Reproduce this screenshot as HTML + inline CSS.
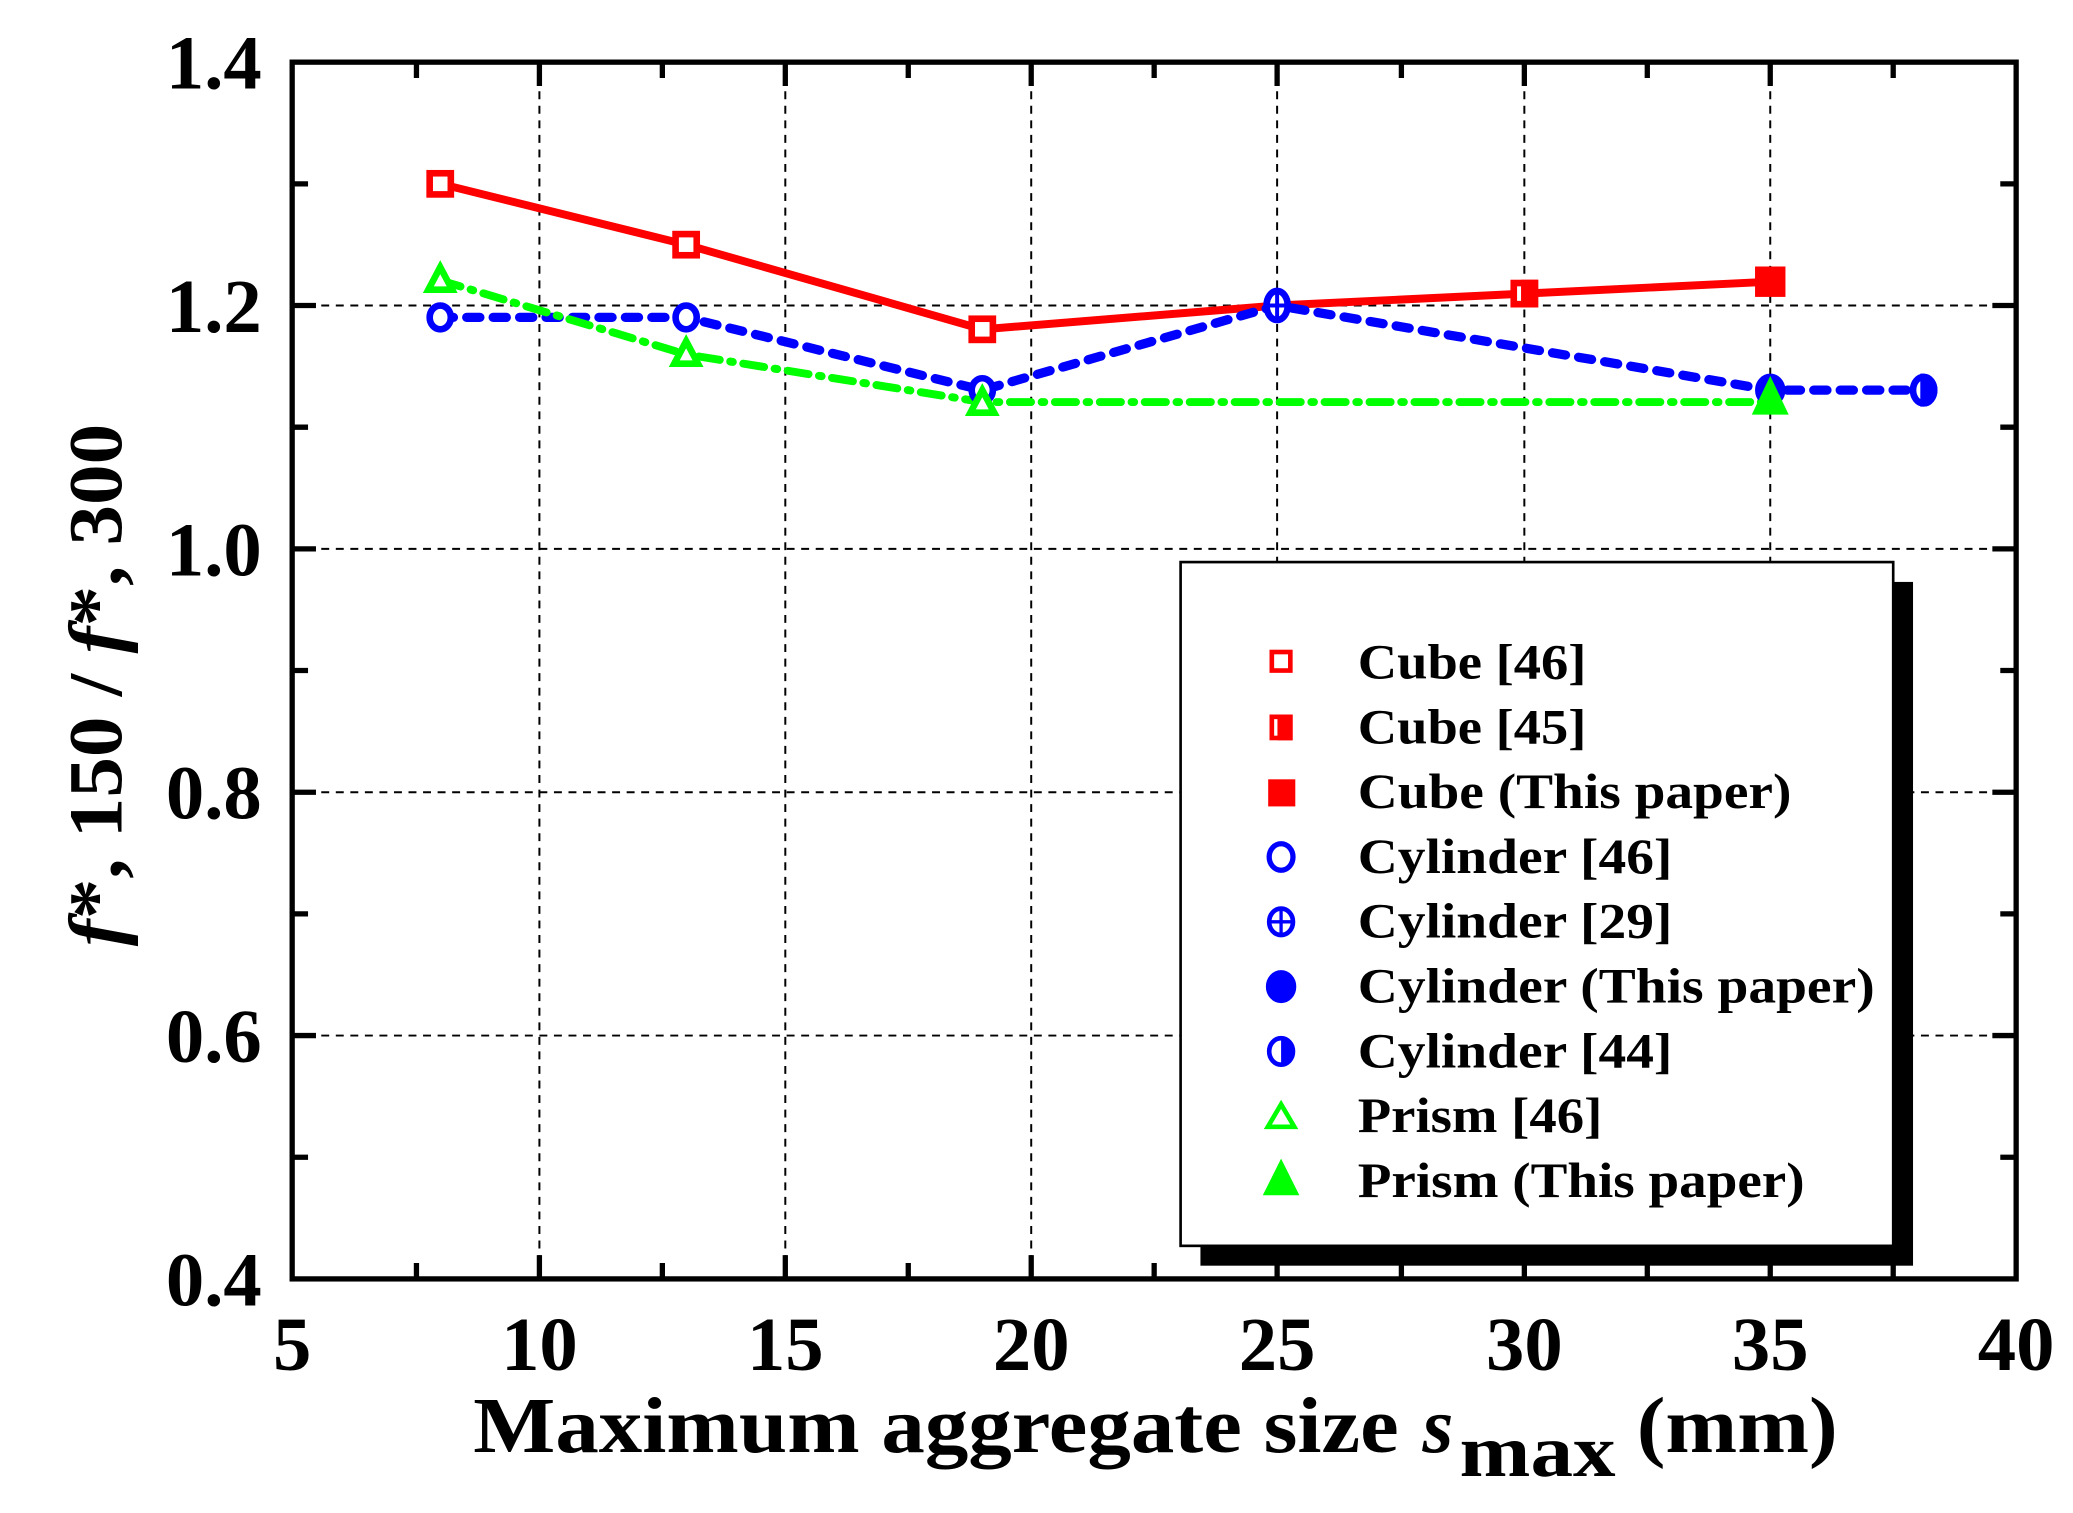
<!DOCTYPE html>
<html><head><meta charset="utf-8"><style>html,body{margin:0;padding:0;background:#fff}svg{display:block}text{font-family:"Liberation Serif",serif;font-weight:bold}</style></head>
<body>
<svg width="2073" height="1513" viewBox="0 0 1568 1144" preserveAspectRatio="none" xmlns="http://www.w3.org/2000/svg">
<rect width="1568" height="1144" fill="#fff"/>
<g stroke="#000" stroke-width="1.5" stroke-dasharray="6,5">
<line x1="408" y1="47" x2="408" y2="967"/><line x1="594" y1="47" x2="594" y2="967"/><line x1="780" y1="47" x2="780" y2="967"/><line x1="966" y1="47" x2="966" y2="967"/><line x1="1153" y1="47" x2="1153" y2="967"/><line x1="1339" y1="47" x2="1339" y2="967"/>
<line x1="221" y1="231" x2="1525" y2="231"/><line x1="221" y1="415" x2="1525" y2="415"/><line x1="221" y1="599" x2="1525" y2="599"/><line x1="221" y1="783" x2="1525" y2="783"/>
</g>
<g stroke="#000" stroke-width="4">
<path d="M315 967v-12M408 967v-18M501 967v-12M594 967v-18M687 967v-12M780 967v-18M873 967v-12M966 967v-18M1060 967v-12M1153 967v-18M1246 967v-12M1339 967v-18M1432 967v-12"/>
<path d="M315 47v12M408 47v18M501 47v12M594 47v18M687 47v12M780 47v18M873 47v12M966 47v18M1060 47v12M1153 47v18M1246 47v12M1339 47v18M1432 47v12"/>
<path d="M221 139h12M221 231h18M221 323h12M221 415h18M221 507h12M221 599h18M221 691h12M221 783h18M221 875h12"/>
<path d="M1525 139h-12M1525 231h-18M1525 323h-12M1525 415h-18M1525 507h-12M1525 599h-18M1525 691h-12M1525 783h-18M1525 875h-12"/>
</g>
<rect x="221" y="47" width="1304" height="920" fill="none" stroke="#000" stroke-width="4"/>
<polyline points="333,139 519,185 743,249 966,231 1153,222 1339,213" fill="none" stroke="#f00" stroke-width="6"/>
<polyline points="333,240 519,240 743,295 966,231 1339,295 1455,295" fill="none" stroke="#00f" stroke-width="7" stroke-dasharray="10,10" stroke-linecap="round"/>
<polyline points="333,212 519,268 743,304 1339,304" fill="none" stroke="#0f0" stroke-width="6" stroke-dasharray="16,8,2,8" stroke-linecap="round"/>
<g stroke="#f00" stroke-width="5" fill="#fff">
<rect x="325" y="131" width="16" height="16"/><rect x="511" y="177" width="16" height="16"/><rect x="735" y="241" width="16" height="16"/>
<rect x="1145" y="214" width="16" height="16"/><rect x="1153" y="214" width="8" height="16" fill="#f00"/>
<rect x="1330" y="204" width="18" height="18" fill="#f00"/>
</g>
<g stroke="#00f" stroke-width="5" fill="#fff">
<ellipse cx="333" cy="240" rx="8" ry="9"/><ellipse cx="519" cy="240" rx="8" ry="9"/><ellipse cx="743" cy="295" rx="8" ry="9"/>
<ellipse cx="966" cy="231" rx="8" ry="11"/><path d="M958 231h16M966 220v22" stroke-width="3"/>
<ellipse cx="1339" cy="295" rx="9" ry="10" fill="#00f"/>
<ellipse cx="1455" cy="295" rx="8" ry="10"/><path d="M1455 285a8 10 0 0 1 0 20z" fill="#00f"/>
</g>
<g stroke="#0f0" stroke-width="5" fill="#fff">
<path d="M333 202l9 17h-18z"/><path d="M519 258l9 17h-18z"/><path d="M743 295l9 17h-18z"/><path d="M1339 290l10 21h-20z" fill="#0f0"/>
</g>
<rect x="908" y="440" width="539" height="517" fill="#000"/>
<rect x="893" y="425" width="539" height="517" fill="#fff" stroke="#000" stroke-width="2"/>
<g stroke-width="3.5">
<rect x="962" y="493" width="14" height="14" fill="#fff" stroke="#f00"/>
<rect x="962" y="542" width="14" height="16" fill="#fff" stroke="#f00"/><rect x="968" y="542" width="8" height="16" fill="#f00" stroke="#f00"/>
<rect x="961" y="591" width="17" height="17" fill="#f00" stroke="#f00"/>
<ellipse cx="969" cy="648" rx="9" ry="10" fill="#fff" stroke="#00f" stroke-width="4"/>
<ellipse cx="969" cy="697" rx="9" ry="10" fill="#fff" stroke="#00f"/><path d="M960 697h18M969 687v20" stroke="#00f" stroke-width="2.5"/>
<ellipse cx="969" cy="746" rx="11" ry="12" fill="#00f" stroke="#00f" stroke-width="1"/>
<ellipse cx="969" cy="795" rx="9" ry="10" fill="#fff" stroke="#00f"/><path d="M969 785a9 10 0 0 1 0 20z" fill="#00f"/>
<path d="M969 835l10 17h-20z" fill="#fff" stroke="#0f0"/>
<path d="M969 880l11 22h-22z" fill="#0f0" stroke="#0f0"/>
</g>
<g font-size="38" fill="#000">
<text x="1027" y="513" textLength="173" lengthAdjust="spacingAndGlyphs">Cube [46]</text>
<text x="1027" y="562" textLength="173" lengthAdjust="spacingAndGlyphs">Cube [45]</text>
<text x="1027" y="611" textLength="328" lengthAdjust="spacingAndGlyphs">Cube (This paper)</text>
<text x="1027" y="660" textLength="238" lengthAdjust="spacingAndGlyphs">Cylinder [46]</text>
<text x="1027" y="709" textLength="238" lengthAdjust="spacingAndGlyphs">Cylinder [29]</text>
<text x="1027" y="758" textLength="391" lengthAdjust="spacingAndGlyphs">Cylinder (This paper)</text>
<text x="1027" y="807" textLength="238" lengthAdjust="spacingAndGlyphs">Cylinder [44]</text>
<text x="1027" y="856" textLength="185" lengthAdjust="spacingAndGlyphs">Prism [46]</text>
<text x="1027" y="905" textLength="338" lengthAdjust="spacingAndGlyphs">Prism (This paper)</text>
</g>
<g font-size="58" fill="#000" text-anchor="end">
<text x="198" y="67">1.4</text><text x="198" y="251">1.2</text><text x="198" y="435">1.0</text><text x="198" y="619">0.8</text><text x="198" y="803">0.6</text><text x="198" y="987">0.4</text>
</g>
<g font-size="58" fill="#000" text-anchor="middle">
<text x="221" y="1036">5</text><text x="408" y="1036">10</text><text x="594" y="1036">15</text><text x="780" y="1036">20</text><text x="966" y="1036">25</text><text x="1153" y="1036">30</text><text x="1339" y="1036">35</text><text x="1525" y="1036">40</text>
</g>
<g font-size="60" fill="#000">
<text x="358" y="1098" textLength="700" lengthAdjust="spacingAndGlyphs">Maximum aggregate size</text>
<text x="1076" y="1098" font-style="italic">s</text>
<text x="1104" y="1116" font-size="56" textLength="118" lengthAdjust="spacingAndGlyphs">max</text>
<text x="1238" y="1098" textLength="152" lengthAdjust="spacingAndGlyphs">(mm)</text>
</g>
<text transform="translate(92,518) rotate(-90)" text-anchor="middle" font-size="58" fill="#000" textLength="395" lengthAdjust="spacingAndGlyphs"><tspan font-style="italic">f</tspan>*, 150 / <tspan font-style="italic">f</tspan>*, 300</text>
</svg>
</body></html>
